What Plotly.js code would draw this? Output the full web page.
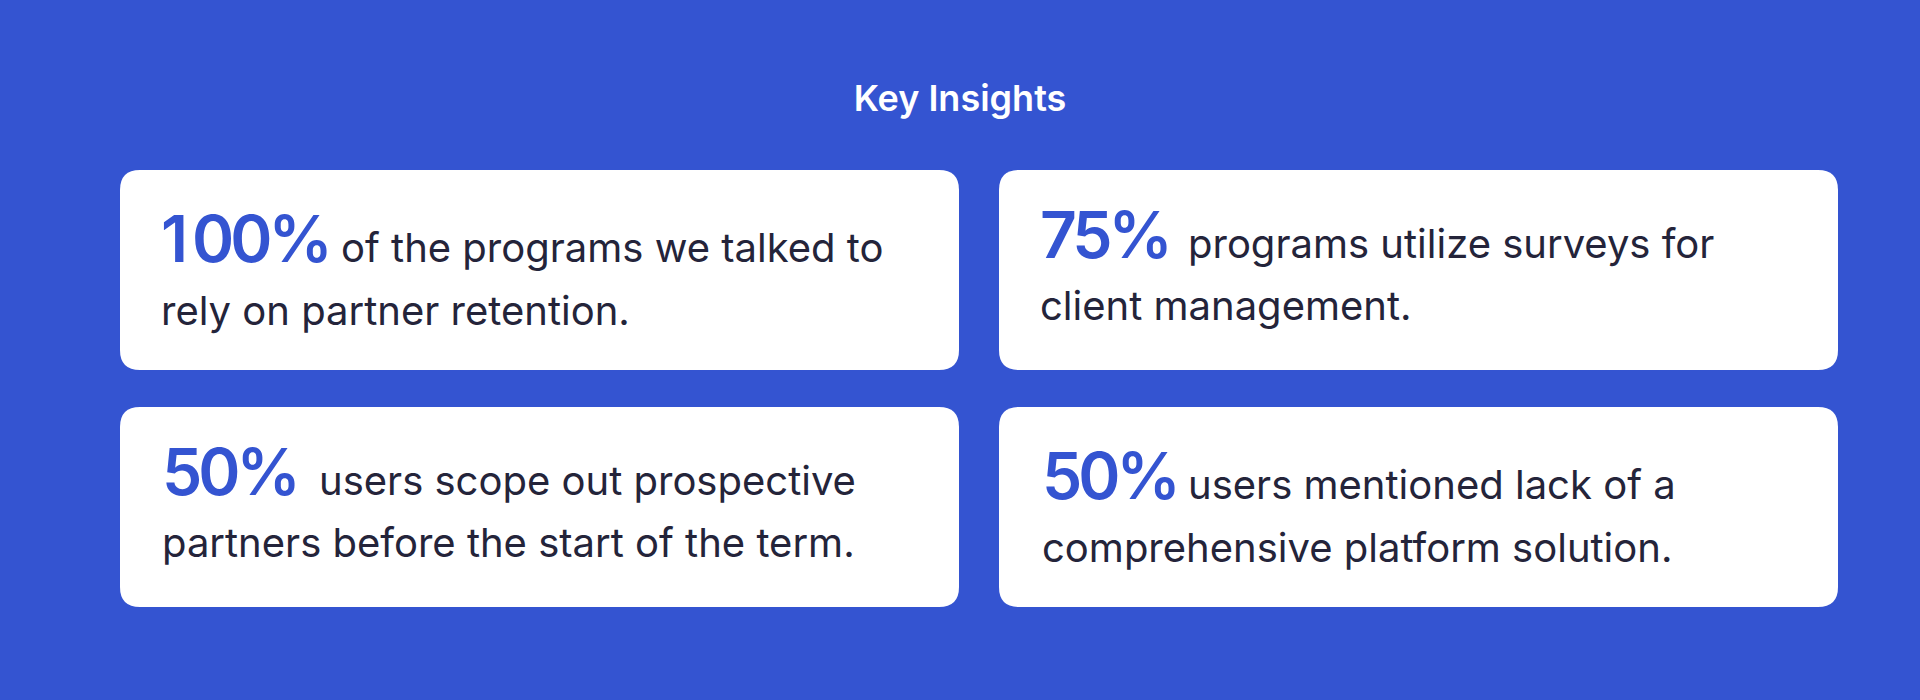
<!DOCTYPE html>
<html>
<head>
<meta charset="utf-8">
<script src="https://cdn.plot.ly/plotly-3.0.1.min.js"></script>
<style>
  html, body { margin: 0; padding: 0; background: #3454D1; }
  #chart { width: 1920px; height: 700px; }
</style>
</head>
<body>
<div id="chart"></div>
<script>
// ---- data ----
const chartTitle = 'Key Insights';
const statValues = ['100%', '75%', '50%', '50%'];
const firstLines = [
  'of the programs we talked to',
  'programs utilize surveys for',
  'users scope out prospective',
  'users mentioned lack of a'
];
const secondLines = [
  'rely on partner retention.',
  'client management.',
  'partners before the start of the term.',
  'comprehensive platform solution.'
];

// ---- layout / style (not data) ----
const W = 1920, H = 700;
const BG = '#3454D1';
const ACCENT = '#3454D1';
const INK = '#24243A';
const FONT = 'Inter, "Noto Sans", sans-serif';
const colX = [120, 999];
const rowY = [170, 407];
const cardW = 839, cardH = 200, radius = 20;
const statFs = 64, bodyFs = 40, titleFs = 36;
const statSpacing = -4;   // px letter-spacing on the big figures
const oneSpacing = 4;     // the figure "1" is set wider
// per-card text offsets from card top-left
const statDx = [39, 39, 40, 41];
const bodyDx = [219, 187, 197, 187];
const base1Dy = [92, 88, 88, 92];
const base2Dy = [155, 150, 150, 155];
const MID = 0.364; // baseline -> bbox centre (em)

function roundRect(x0, y0, x1, y1, r) {
  return `M ${x0 + r},${y0} L ${x1 - r},${y0} Q ${x1},${y0} ${x1},${y0 + r} ` +
         `L ${x1},${y1 - r} Q ${x1},${y1} ${x1 - r},${y1} L ${x0 + r},${y1} ` +
         `Q ${x0},${y1} ${x0},${y1 - r} L ${x0},${y0 + r} Q ${x0},${y0} ${x0 + r},${y0} Z`;
}

function statMarkup(s) {
  return s.split('').map(ch =>
    `<span style="letter-spacing:${ch === '1' ? oneSpacing : statSpacing}px">${ch}</span>`
  ).join('');
}

const shapes = [];
const annotations = [];
statValues.forEach((stat, i) => {
  const cx = colX[i % 2];
  const cy = rowY[Math.floor(i / 2)];
  shapes.push({
    type: 'path', xref: 'x', yref: 'y', layer: 'below',
    path: roundRect(cx, cy, cx + cardW, cy + cardH, radius),
    fillcolor: '#FFFFFF', line: { width: 0 }
  });
  const b1 = cy + base1Dy[i];
  const b2 = cy + base2Dy[i];
  annotations.push({
    xref: 'x', yref: 'y', x: cx + statDx[i], y: b1 - MID * statFs,
    xanchor: 'left', yanchor: 'middle', showarrow: false,
    text: statMarkup(stat),
    font: { family: FONT, size: statFs, color: ACCENT, weight: 600 }
  });
  annotations.push({
    xref: 'x', yref: 'y', x: cx + bodyDx[i], y: b1 - MID * bodyFs,
    xanchor: 'left', yanchor: 'middle', showarrow: false, text: firstLines[i],
    font: { family: FONT, size: bodyFs, color: INK, weight: 400 }
  });
  annotations.push({
    xref: 'x', yref: 'y', x: cx + statDx[i], y: b2 - MID * bodyFs,
    xanchor: 'left', yanchor: 'middle', showarrow: false, text: secondLines[i],
    font: { family: FONT, size: bodyFs, color: INK, weight: 400 }
  });
});

const layout = {
  width: W, height: H,
  margin: { l: 0, r: 0, t: 0, b: 0, pad: 0 },
  paper_bgcolor: BG, plot_bgcolor: BG,
  showlegend: false,
  title: {
    text: chartTitle, x: 0.5, xanchor: 'center', xref: 'container',
    y: 1 - 98 / H, yanchor: 'middle', yref: 'container',
    font: { family: FONT, size: titleFs, color: '#FFFFFF', weight: 600 }
  },
  xaxis: { range: [0, W], visible: false, fixedrange: true },
  yaxis: { range: [H, 0], visible: false, fixedrange: true },
  shapes: shapes,
  annotations: annotations
};

Plotly.newPlot('chart', [{ x: [], y: [], type: 'scatter', mode: 'markers', hoverinfo: 'skip' }], layout,
  { displayModeBar: false, staticPlot: true, responsive: false });
</script>
</body>
</html>
